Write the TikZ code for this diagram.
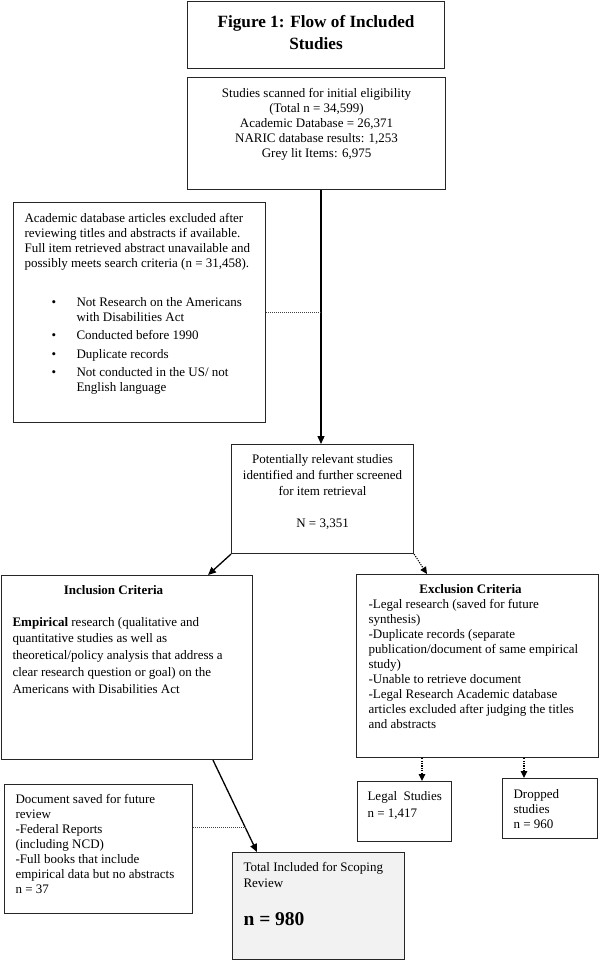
\documentclass[tikz,border=0pt]{standalone}
\usepackage{fontspec}
\setmainfont{Liberation Serif}
\usetikzlibrary{arrows.meta,calc}
\newcommand{\bx}[4]{\parbox[c][#2][t]{#1}{\vspace*{#3}#4}}
\begin{document}
\begin{tikzpicture}[x=1pt,y=-1pt,
  box/.style={draw=black!85,line width=1.1pt,inner sep=0pt,anchor=north west,
    font=\fontsize{13}{15}\selectfont},
  solidarrow/.style={line width=1.3pt,-{Triangle[length=8pt,width=7pt]}},
  dotline/.style={line width=0.9pt,black!75,dash pattern=on 1pt off 1pt},
  dotarrow/.style={line width=1.1pt,dash pattern=on 1.2pt off 1.2pt,-{Triangle[length=7pt,width=6.5pt]}}]
\useasboundingbox (0,0) rectangle (600,961);

\node[box] (title) at (187,1) {\bx{257pt}{67pt}{14pt}{\centering\fontsize{17.2}{21.5}\selectfont\bfseries Figure 1: Flow of Included\\Studies\par}};

\node[box] (scan) at (187,77) {\bx{258pt}{112pt}{10.5pt}{\centering Studies scanned for initial eligibility\\(Total n = 34,599)\\Academic Database = 26,371\\NARIC database results: 1,253\\Grey lit Items: 6,975\par}};

\node[box] (left) at (13,202) {\bx{252pt}{220pt}{10.5pt}{\raggedright\leftskip=11pt
Academic database articles excluded after\\reviewing titles and abstracts if available.\\Full item retrieved abstract unavailable and\\possibly meets search criteria (n = 31,458).\\[24pt]
\hspace*{27pt}\makebox[25pt][l]{•}Not Research on the Americans\\
\hspace*{52pt}with Disabilities Act\\[3.5pt]
\hspace*{27pt}\makebox[25pt][l]{•}Conducted before 1990\\[3.5pt]
\hspace*{27pt}\makebox[25pt][l]{•}Duplicate records\\[3.5pt]
\hspace*{27pt}\makebox[25pt][l]{•}Not conducted in the US/ not\\
\hspace*{52pt}English language\par}};

\node[box] (pot) at (231,444) {\bx{182pt}{109pt}{9.7pt}{\centering\fontsize{13}{16}\selectfont Potentially relevant studies\\identified and further screened\\for item retrieval\\[16pt]N = 3,351\par}};

\node[box] (incl) at (1,575) {\bx{251pt}{184pt}{9.7pt}{\makebox[224pt]{\bfseries Inclusion Criteria}\par\vspace{15pt}
{\raggedright\leftskip=11pt\fontsize{13}{16.8}\selectfont \textbf{Empirical} research (qualitative and\\quantitative studies as well as\\theoretical/policy analysis that address a\\clear research question or goal) on the\\Americans with Disabilities Act\par}}};

\node[box] (excl) at (356,574) {\bx{242pt}{183pt}{9.7pt}{\makebox[228pt]{\bfseries Exclusion Criteria}\par
{\raggedright\leftskip=12pt -Legal research (saved for future\\synthesis)\\-Duplicate records (separate\\publication/document of same empirical\\study)\\-Unable to retrieve document\\-Legal Research Academic database\\articles excluded after judging the titles\\and abstracts\par}}};

\node[box] (legal) at (357,781) {\bx{94pt}{60pt}{9.7pt}{\raggedright\leftskip=10pt\fontsize{13}{17}\selectfont Legal\ \ Studies\\n = 1,417\par}};

\node[box] (drop) at (502,778) {\bx{95pt}{60pt}{10.5pt}{\raggedright\leftskip=11pt Dropped\\studies\\n = 960\par}};

\node[box] (doc) at (4,784) {\bx{188pt}{129pt}{9.7pt}{\raggedright\leftskip=11pt Document saved for future\\review\\-Federal Reports\\(including NCD)\\-Full books that include\\empirical data but no abstracts\\n = 37\par}};

\node[box,fill=black!5] (total) at (232,852) {\bx{172pt}{107pt}{9.7pt}{\raggedright\leftskip=11pt\fontsize{13}{16.5}\selectfont Total Included for Scoping\\Review\par\vspace{16pt}
{\fontsize{19.5}{22}\selectfont\bfseries n = 980\par}}};

% connectors
\coordinate (vx) at (321,0);
\coordinate (inTop) at (208,575);
\coordinate (exTop) at (427,574);
\coordinate (lx) at (422,0);
\coordinate (dx) at (524,0);
\coordinate (ia) at (213,0);
\coordinate (ib) at (257,0);

\draw[solidarrow] (scan.south -| vx) -- (pot.north -| vx);
\draw[dotline] (left.east) -- (left.east -| vx);
\draw[solidarrow] (pot.south west) -- (inTop);
\draw[dotarrow] (pot.south east) -- (exTop);
\draw[dotarrow] (excl.south -| lx) -- (legal.north -| lx);
\draw[dotarrow] (excl.south -| dx) -- (drop.north -| dx);
\coordinate (iA) at (incl.south -| ia);
\coordinate (iB) at (total.north -| ib);
\draw[solidarrow] (iA) -- (iB);
\coordinate (dj) at ($(iA)!0.736!(iB)$);
\draw[dotline] (doc.east |- dj) -- (dj);
\end{tikzpicture}
\end{document}
